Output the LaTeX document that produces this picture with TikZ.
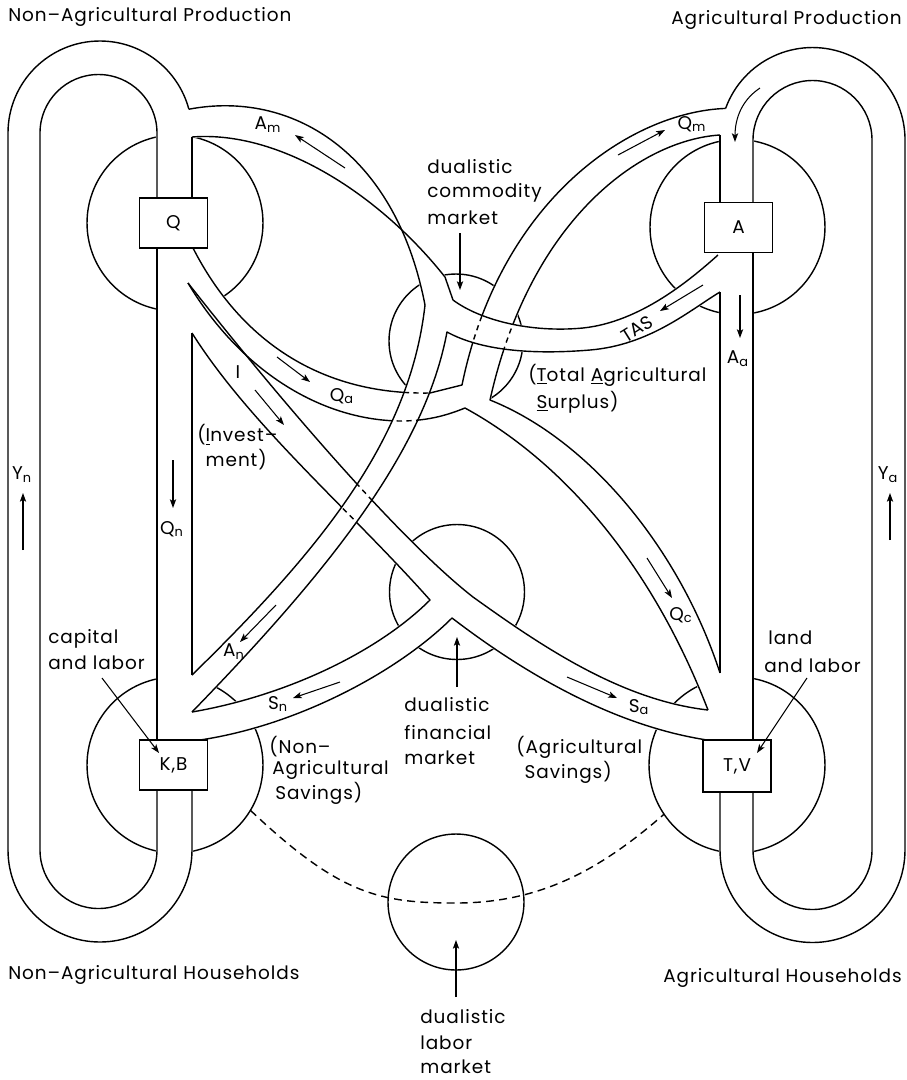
\documentclass[tikz,border=0pt]{standalone}
\usepackage{fontspec}
\setmainfont{Poppins}[LetterSpace=5]
\newfontfamily\plainfont{Poppins}
\usetikzlibrary{arrows.meta}
\newcommand{\fsz}{\fontsize{10.5}{12.5}\selectfont}
% wall paths
\def\wQmQa{(725.6,108.4) .. controls (630,112) and (500,200) .. (462,385) -- (430,393) .. controls (320,395) and (240,340) .. (193,248)}
\def\wQmQc{(720,135) .. controls (640,140) and (530,220) .. (490,400) .. controls (590,440) and (680,550) .. (720,673)}
\def\wQaQc{(188,283) .. controls (240,370) and (320,420) .. (400,421) .. controls (430,421) and (450,414) .. (465,408) .. controls (560,460) and (650,560) .. (708,710)}
\def\wISa{(188,283) .. controls (280,400) and (400,540) .. (473,597) .. controls (540,645) and (620,700) .. (708,710)}
\def\wISn{(192,333) .. controls (250,425) and (350,510) .. (430,600) .. controls (380,650) and (290,695) .. (192,712)}
\def\wSnSa{(200,740) .. controls (300,725) and (400,670) .. (452,618) .. controls (520,670) and (610,725) .. (707,740)}
\def\wAmAn{(188.9,109.2) .. controls (290,90) and (395,150) .. (425,305) .. controls (410,440) and (320,550) .. (192,675)}
\def\wAmTAS{(192,137) .. controls (280,130) and (380,195) .. (445,277) -- (453,300) .. controls (480,320) and (530,333) .. (583,328) .. controls (640,322) and (690,280) .. (718,255)}
\def\wTASAn{(720,292) .. controls (690,310) and (650,345) .. (590,350) .. controls (530,355) and (480,350) .. (447,332) .. controls (425,450) and (330,570) .. (192,712)}
% channel strips
\def\sTAS{(453,300) .. controls (480,320) and (530,333) .. (583,328) .. controls (640,322) and (690,280) .. (718,255) -- (720,292) .. controls (690,310) and (650,345) .. (590,350) .. controls (530,355) and (480,350) .. (447,332) -- cycle}
\def\sAn{(425,305) .. controls (410,440) and (320,550) .. (192,675) -- (192,712) .. controls (330,570) and (425,450) .. (447,332) -- cycle}
\def\sAm{(188.9,109.2) .. controls (290,90) and (395,150) .. (425,305) -- (453,300) -- (445,277) .. controls (380,195) and (280,130) .. (192,137) -- cycle}
\def\sQa{(193,248) .. controls (240,340) and (320,395) .. (430,393) -- (462,385) -- (465,408) .. controls (450,414) and (430,421) .. (400,421) .. controls (320,420) and (240,370) .. (188,283) -- cycle}
\def\sQm{(725.6,108.4) .. controls (630,112) and (500,200) .. (462,385) -- (490,400) .. controls (530,220) and (640,140) .. (720,135) -- cycle}
\def\sQc{(462,385) -- (490,400) .. controls (590,440) and (680,550) .. (720,673) -- (708,710) .. controls (650,560) and (560,460) .. (465,408) -- cycle}
\def\sISa{(188,283) .. controls (280,400) and (400,540) .. (473,597) .. controls (540,645) and (620,700) .. (708,710) -- (707,740) .. controls (610,725) and (520,670) .. (452,618) -- (430,600) .. controls (350,510) and (250,425) .. (192,333) -- cycle}
\def\sSn{(430,600) .. controls (380,650) and (290,695) .. (192,712) -- (200,740) .. controls (300,725) and (400,670) .. (452,618) -- cycle}
\begin{document}
\begin{tikzpicture}[x=0.02cm,y=-0.02cm,
  wall/.style={line width=0.8pt,line join=round},
  dwall/.style={line width=0.8pt,dash pattern=on 3pt off 2.5pt},
  flow/.style={line width=0.6pt,-{Stealth[length=5pt,width=3.6pt,inset=1.2pt]}},
  lbl/.style={inner sep=0pt,font=\fsz},
  txt/.style={inner sep=0pt,anchor=west,font=\fsz},
  boxnode/.style={draw,fill=white,line width=0.8pt,inner sep=0pt,minimum width=1.36cm,minimum height=1cm,font=\fsz},
  mktc/.style={draw,circle,line width=0.8pt,inner sep=0pt,outer sep=0pt},
  dsh/.style={line width=0.8pt,dash pattern=on 4.5pt off 3pt},
  blank/.style={fill=white,draw=white,line width=1.2pt}
]
\fill[white] (0,0) rectangle (907,1080);
\useasboundingbox (0,0) rectangle (907,1080);

% ---- circles (markets and sectors)
\node[mktc,minimum size=3.52cm] (qc) at (175,223) {};
\node[mktc,minimum size=3.5cm] (ac) at (737.5,227) {};
\node[mktc,minimum size=3.52cm] (kbc) at (175,765) {};
\node[mktc,minimum size=3.52cm] (tvc) at (737,765) {};
\node[mktc,minimum size=2.68cm] (cmc) at (456,341) {};
\node[mktc,minimum size=2.7cm] (fmc) at (457,592) {};
\node[mktc,minimum size=2.72cm] (lmc) at (456,902) {};
\draw[dsh] (kbc.-31.4) .. controls (340,895) and (380,903) .. (456,903) .. controls (540,903) and (600,870) .. (tvc.-146.3);

% ---- white interiors of channels
\path[blank,even odd rule] (8,133) arc[start angle=180,end angle=360,radius=92] -- (192,850) arc[start angle=0,end angle=180,radius=92] -- cycle
  (40,133) arc[start angle=180,end angle=360,radius=58.5] -- (157,850) arc[start angle=0,end angle=180,radius=58.5] -- cycle;
\path[blank,even odd rule] (720,140) arc[start angle=180,end angle=360,radius=92.5] -- (905,850) arc[start angle=0,end angle=180,radius=92.5] -- cycle
  (753,140) arc[start angle=180,end angle=360,radius=59.5] -- (872,850) arc[start angle=0,end angle=180,radius=59.5] -- cycle;
\path[blank] \sAm;
\path[blank] \sTAS;
\path[blank] \sAn;
\path[blank] \sQa;
\path[blank] \sQm;
\path[blank] \sQc;
\path[blank] \sISa;
\path[blank] \sSn;
\path[blank] (425,305) -- (453,300) -- (447,332) -- cycle;
\path[blank] (192,712) -- (192,740) -- (207,740) -- cycle;
\path[blank] (720,673) -- (708,710) -- (707,740) -- (720,740) -- cycle;

% ---- walls of channels that pass underneath
\draw[wall] \wQmQa;
\draw[wall] \wQmQc;
\draw[wall] \wQaQc;
\draw[wall] \wISa;
\draw[wall] \wISn;
\draw[wall] \wSnSa;

% ---- overpasses
\fill[white] \sTAS;
\fill[white] \sAn;
\begin{scope}
  \clip \sTAS;
  \draw[dwall] \wQmQa;
  \draw[dwall] \wQmQc;
\end{scope}
\begin{scope}
  \clip \sAn;
  \draw[dwall] \wQmQa;
  \draw[dwall] \wQaQc;
  \draw[dwall] \wISa;
  \draw[dwall] \wISn;
\end{scope}

% ---- remaining walls
\draw[wall] \wAmAn;
\draw[wall] \wAmTAS;
\draw[wall] \wTASAn;
% left loop
\draw[wall] (8,850) -- (8,133) arc[start angle=180,end angle=345,radius=92];
\draw[wall] (157,198) -- (157,133) arc[start angle=0,end angle=-180,radius=58.5] -- (40,850) arc[start angle=180,end angle=0,radius=58.5] -- (157,790);
\draw[wall] (157,248) -- (157,740);
\draw[wall] (192,198) -- (192,137);
\draw[wall] (192,333) -- (192,675);
\draw[wall] (192,790) -- (192,850) arc[start angle=0,end angle=180,radius=92];
% right loop
\draw[wall] (725.6,108.4) arc[start angle=200,end angle=360,radius=92.5] -- (905,850) arc[start angle=0,end angle=180,radius=92.5] -- (720,792);
\draw[wall] (753,202) -- (753,140) arc[start angle=180,end angle=360,radius=59.5] -- (872,850) arc[start angle=0,end angle=180,radius=59.5] -- (753,792);
\draw[wall] (720,202) -- (720,135);
\draw[wall] (720,292) -- (720,673);
\draw[wall] (753,253) -- (753,740);

% ---- boxes
\node[boxnode] (Q) at (173.5,223) {Q};
\node[boxnode] (A) at (738.5,227.5) {A};
\node[boxnode] (KB) at (173.5,765) {K,B};
\node[boxnode,minimum height=1.04cm] (TV) at (737,766) {T,V};

% ---- flow labels
\node[lbl] (lAm) at (268,125) {A\textsubscript{m}};
\node[lbl] (lQm) at (692,124) {Q\textsubscript{m}};
\node[inner sep=0pt,rotate=32,font=\plainfont\fsz] (lTAS) at (637,329) {TAS};
\node[lbl] (lAa) at (738,359) {A\textsubscript{a}};
\node[lbl] (lQa) at (342,396) {Q\textsubscript{a}};
\node[lbl] (lI) at (238,372) {I};
\node[lbl] (lQn) at (172,529) {Q\textsubscript{n}};
\node[lbl] (lYn) at (22,475) {Y\textsubscript{n}};
\node[lbl] (lYa) at (888,475) {Y\textsubscript{a}};
\node[lbl] (lAn) at (234,652) {A\textsubscript{n}};
\node[lbl] (lSn) at (278,704) {S\textsubscript{n}};
\node[lbl] (lSa) at (639,707) {S\textsubscript{a}};
\node[lbl] (lQc) at (681,615) {Q\textsubscript{c}};

% ---- flow arrows
\draw[flow] (345,168) -- (295,135);
\draw[flow] (618,155) -- (665,130);
\draw[flow] (760,88) .. controls (742,100) and (735,118) .. (735,142);
\draw[flow] (703,285) -- (660,311);
\draw[flow] (740,295) -- (740,338);
\draw[flow] (277,357) -- (310,382);
\draw[flow] (255,390) -- (284,425);
\draw[flow] (173,460) -- (173,508);
\draw[flow] (23,550) -- (23,493);
\draw[flow] (890,540) -- (890,493);
\draw[flow] (276,605) -- (240,642);
\draw[flow] (340,682) -- (293,698);
\draw[flow] (567,677) -- (617,698);
\draw[flow] (647,558) -- (672,598);

% ---- texts
\node[txt] (tNAP) at (8,17) {Non–Agricultural Production};
\node[lbl,anchor=east] (tAP) at (902,20) {Agricultural Production};
\node[txt] (tNAH) at (8,975) {Non–Agricultural Households};
\node[lbl,anchor=east] (tAH) at (902,978) {Agricultural Households};

\node[txt] (cm1) at (427,167) {dualistic};
\node[txt] (cm2) at (427,193) {commodity};
\node[txt] (cm3) at (427,218) {market};
\draw[flow] (460,233) -- (460,290);

\node[txt] (tas1) at (528,375) {(\underline{T}otal \underline{A}gricultural};
\node[txt] (tas2) at (528,402) {\phantom{(}\underline{S}urplus)};

\node[txt] (inv1) at (197,435) {(\underline{I}nvest–};
\node[txt] (inv2) at (197,460) {\phantom{(}ment)};

\node[txt] (cap1) at (48,639) {capital};
\node[txt] (cap2) at (48,663) {and labor};
\draw[flow] (102,678) -- (159,753);

\node[txt] (land1) at (768,638) {land};
\node[txt] (land2) at (764,666) {and labor};
\draw[flow] (807,678) -- (757,753);

\node[txt] (nas1) at (269,747) {(Non–};
\node[txt] (nas2) at (272,770) {Agricultural};
\node[txt] (nas3) at (275,793) {Savings)};

\node[txt] (fm1) at (404,705) {dualistic};
\node[txt] (fm2) at (404,733) {financial};
\node[txt] (fm3) at (404,758) {market};
\draw[flow] (457,687) -- (457,637);

\node[txt] (as1) at (516,747) {(Agricultural};
\node[txt] (as2) at (516,772) {\phantom{(}Savings)};

\node[txt] (lm1) at (420,1017) {dualistic};
\node[txt] (lm2) at (420,1043) {labor};
\node[txt] (lm3) at (420,1067) {market};
\draw[flow] (456,997) -- (456,940);
\end{tikzpicture}
\end{document}
